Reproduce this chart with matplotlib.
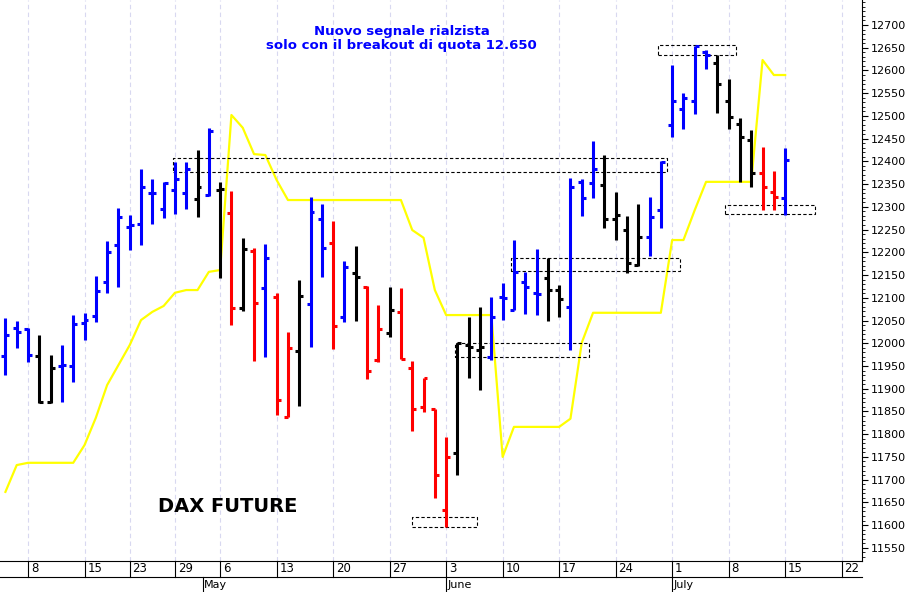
import numpy as np
import matplotlib.pyplot as plt
from matplotlib.lines import Line2D
import matplotlib.transforms as mtrans

# daily bars, index 0 = 4 April
highs = [12056, 12049, 12034, 12018, 11974, 11996, 12062, 12067, 12148, 12225,
         12298, 12282, 12383, 12361, 12355, 12399, 12399, 12425, 12473, 12355,
         12335, 12232, 12210, 12219, 12111, 12025, 12139, 12322, 12306, 12269,
         12181, 12214, 12126, 12084, 12124, 12122, 11962, 11924, 11856, 11794,
         12001, 12058, 12080, 12102, 12133, 12227, 12157, 12207, 12188, 12128,
         12364, 12361, 12445, 12414, 12333, 12280, 12306, 12322, 12401, 12612,
         12550, 12654, 12645, 12634, 12581, 12496, 12469, 12432, 12379, 12430]
lows = [11930, 11990, 11959, 11869, 11869, 11871, 11915, 12007, 12047, 12111,
        12124, 12205, 12216, 12262, 12276, 12284, 12295, 12278, 12324, 12144,
        12040, 12071, 11962, 11970, 11843, 11838, 11862, 11992, 12146, 11988,
        12047, 12049, 11922, 11959, 12014, 11966, 11807, 11849, 11660, 11596,
        11710, 11924, 11898, 11963, 12051, 12073, 12065, 12062, 12049, 12058,
        11986, 12280, 12320, 12254, 12227, 12155, 12170, 12192, 12254, 12454,
        12471, 12504, 12603, 12506, 12471, 12355, 12344, 12293, 12293, 12282]
opens = [11972, 12034, 12032, 11972, 11871, 11950, 11950, 12045, 12060, 12135,
         12216, 12256, 12262, 12331, 12295, 12337, 12331, 12317, 12326, 12337,
         12287, 12078, 12203, 12122, 12102, 11838, 11983, 12087, 12273, 12221,
         12058, 12155, 12124, 11963, 12023, 12069, 11946, 11860, 11856, 11634,
         11759, 11997, 11986, 11970, 12102, 12073, 12135, 12111, 12144, 12117,
         12080, 12355, 12353, 12348, 12273, 12249, 12172, 12234, 12293, 12480,
         12515, 12533, 12641, 12616, 12533, 12482, 12447, 12375, 12333, 12320]
closes = [12018, 12025, 11974, 11871, 11946, 11952, 12042, 12051, 12115, 12201,
          12278, 12260, 12344, 12331, 12353, 12361, 12383, 12344, 12467, 12339,
          12078, 12207, 12089, 12187, 11876, 11990, 12104, 12289, 12210, 12038,
          12168, 12146, 11939, 12032, 12073, 11966, 11856, 11924, 11710, 11750,
          12001, 11992, 11992, 12058, 12100, 12157, 12124, 12109, 12117, 12098,
          12344, 12320, 12383, 12273, 12282, 12177, 12234, 12278, 12399, 12533,
          12539, 12654, 12634, 12570, 12498, 12454, 12375, 12344, 12322, 12403]
colors = list("bbb" + "kk" + "b" * 12 + "kbkrkrbrrkbbrbkrrk" + "rrrrr" + "kkk"
              + "bbbbb" + "kk" + "bbb" + "kkkk" + "bbbbbb" + "kkkk" + "rrb")

trail = [11673, 11732, 11737, 11737, 11737, 11737, 11737, 11776, 11836, 11908,
         11952, 11996, 12051, 12069, 12082, 12111, 12117, 12117, 12157, 12161,
         12502, 12474, 12416, 12414, 12359, 12315, 12315, 12315, 12315, 12315,
         12315, 12315, 12315, 12315, 12315, 12315, 12249, 12232, 12117, 12062,
         12062, 12062, 12062, 12062, 11750, 11816, 11816, 11816, 11816, 11816,
         11834, 12001, 12067, 12067, 12067, 12067, 12067, 12067, 12067, 12227,
         12227, 12293, 12355, 12355, 12355, 12355, 12355, 12623, 12590, 12590]

# dashed boxes: x0, x1, low, high
boxes = [(14.8, 58.5, 12377, 12408), (44.7, 59.7, 12159, 12188),
         (39.8, 51.6, 11970, 12001), (36.0, 41.7, 11596, 11618),
         (57.75, 64.65, 12634, 12656), (63.7, 71.6, 12284, 12304)]

tick_idx = [2, 7, 11, 15, 19, 24, 29, 34, 39, 44, 49, 54, 59, 64, 69, 74]
tick_lab = ['8', '15', '23', '29', '6', '13', '20', '27', '3', '10', '17', '24',
            '1', '8', '15', '22']
months = [(17.5, 'May'), (39, 'June'), (59, 'July')]

cmap = {'b': '#0000ff', 'r': '#ff0000', 'k': '#000000'}

fig = plt.figure(figsize=(9.15, 5.92), dpi=100)
ax = fig.add_axes([0, 1 - 561 / 592, 862 / 915, 561 / 592])
ax.set_xlim(-0.48, 75.8)
ax.set_ylim(11521, 12755)

for t in tick_idx:
    ax.axvline(t, color='#d8d8f0', lw=0.8, ls=(0, (4, 3)), zorder=0)

x = np.arange(len(highs))
ax.plot(x, trail, color='#ffff00', lw=1.6, zorder=1)

for i in range(len(highs)):
    c = cmap[colors[i]]
    ax.vlines(i, lows[i], highs[i], color=c, lw=2.2, zorder=3)
    ax.hlines(opens[i], i - 0.35, i, color=c, lw=2.2, zorder=3)
    ax.hlines(closes[i], i, i + 0.35, color=c, lw=2.2, zorder=3)

for x0, x1, lo, hi in boxes:
    ax.plot([x0, x1, x1, x0, x0], [lo, lo, hi, hi, lo], color='black',
            lw=0.8, ls=(0, (3, 2)), zorder=2)

ax.text(0.466, 0.955, "Nuovo segnale rialzista\nsolo con il breakout di quota 12.650",
        transform=ax.transAxes, ha='center', va='top', color='#0000ff',
        fontsize=9.5, fontweight='bold', linespacing=1.1)
ax.text(158 / 862, 1 - 506 / 561, "DAX FUTURE", transform=ax.transAxes,
        ha='left', va='center', fontsize=14, fontweight='bold')

ax.yaxis.tick_right()
ax.set_yticks(np.arange(11550, 12701, 50))
ax.set_yticks(np.arange(11530, 12751, 10), minor=True)
ax.tick_params(axis='y', labelsize=8, length=4, pad=2)
ax.tick_params(axis='y', which='minor', length=2)
ax.set_xticks([])
for s in ['top', 'left']:
    ax.spines[s].set_visible(False)

tr = mtrans.blended_transform_factory(ax.transData, fig.transFigure)
for t, lab in zip(tick_idx, tick_lab):
    fig.add_artist(Line2D([t, t], [1 - 561 / 592, 1 - 577 / 592], transform=tr,
                          color='black', lw=0.8))
    fig.text(t + 0.25, 1 - 569 / 592, lab, transform=tr, fontsize=8.5,
             ha='left', va='center')
fig.add_artist(Line2D([-0.48, 75.8], [1 - 577 / 592] * 2, transform=tr,
                      color='black', lw=0.8))
for t, lab in months:
    fig.add_artist(Line2D([t, t], [1 - 577 / 592, 1 - 592 / 592], transform=tr,
                          color='black', lw=0.8))
    fig.text(t + 0.1, 1 - 585 / 592, lab, transform=tr, fontsize=8,
             ha='left', va='center')

plt.savefig('out.png', dpi=100)
plt.close()
